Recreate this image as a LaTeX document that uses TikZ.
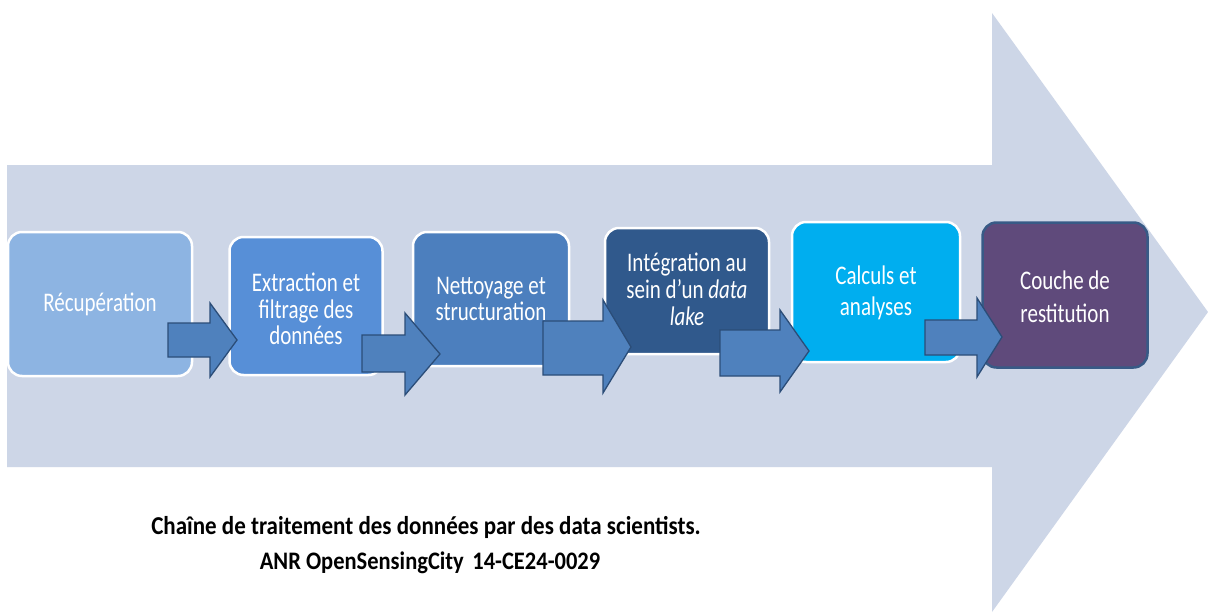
\documentclass[tikz,border=0pt]{standalone}
\usepackage{graphicx}
\usepackage{fontspec}
\setmainfont{Carlito}
\newcommand{\bt}[2][20.5]{\scalebox{1}[1.28]{\fontsize{21}{#1}\selectfont\begin{tabular}{@{}c@{}}#2\end{tabular}}}
\newcommand{\ct}[1]{\scalebox{1}[1.12]{#1}}
\begin{document}
\begin{tikzpicture}[x=1pt,y=-1pt,
  bigarrow/.style={fill=bigc, draw=none},
  stepbox/.style={rounded corners=14pt, draw=white, line width=2.5pt, inner sep=0pt},
  boxtext/.style={text=white, align=center, inner sep=0pt},
  blockarrow/.style={fill=arrc, draw=arrd, line width=1.3pt, line join=miter},
  captionbig/.style={font=\bfseries\fontsize{23}{27}\selectfont, text=black, inner sep=0pt},
  captionsmall/.style={font=\bfseries\fontsize{22.5}{27}\selectfont, text=black, inner sep=0pt}
]
\definecolor{bigc}{HTML}{CDD6E7}
\definecolor{c1}{HTML}{8DB4E2}
\definecolor{c2}{HTML}{578FD7}
\definecolor{c3}{HTML}{4C7FBE}
\definecolor{c4}{HTML}{30598C}
\definecolor{c5}{HTML}{00AEEF}
\definecolor{c6}{HTML}{5F4A7B}
\definecolor{c6b}{HTML}{385A86}
\definecolor{arrc}{HTML}{4F81BD}
\definecolor{arrd}{HTML}{2B4D78}
\useasboundingbox (0,0) rectangle (1208,613);
\fill[white] (0,0) rectangle (1208,613);
% big background arrow
\path[bigarrow] (7,165) -- (992,165) -- (992,13) -- (1208,312) -- (992,612) -- (992,467) -- (7,467) -- cycle;

% boxes (centres and sizes from the reference)
\node[stepbox, fill=c1, minimum width=184pt, minimum height=144pt] (b1) at (100,304) {};
\node[stepbox, fill=c2, minimum width=153pt, minimum height=138pt] (b2) at (306,306) {};
\node[stepbox, fill=c3, minimum width=156pt, minimum height=134pt] (b3) at (491,299) {};
\node[stepbox, fill=c4, minimum width=164pt, minimum height=126pt] (b4) at (687,291) {};
\node[stepbox, fill=c5, minimum width=168pt, minimum height=140pt] (b5) at (876,292) {};
\node[stepbox, fill=c6, draw=c6b, minimum width=165pt, minimum height=145pt] (b6) at (1065,295) {};

% box texts
\node[boxtext] (t1) at ([yshift=-2pt]b1.center) {\bt{R\'ecup\'eration}};
\node[boxtext] (t2) at ([yshift=-7pt]b2.center) {\bt{Extraction et\\filtrage des\\donn\'ees}};
\node[boxtext] (t3) at ([yshift=-3pt]b3.center) {\bt{Nettoyage et\\structuration}};
\node[boxtext] (t4) at ([yshift=-2pt]b4.center) {\bt{Int\'egration au\\sein d'un \textit{data}\\\textit{lake}}};
\node[boxtext] (t5) at ([yshift=-2pt]b5.center) {\bt[23.5]{Calculs et\\analyses}};
\node[boxtext] (t6) at ([yshift=-4pt]b6.center) {\bt[26]{Couche de\\restitution}};

% block arrows between boxes
\draw[blockarrow] (168,323) -- (210,323) -- (210,303) -- (237,340) -- (210,377) -- (210,357) -- (168,357) -- cycle;
\draw[blockarrow] (362,335) -- (405,335) -- (405,313) -- (440,354) -- (405,395) -- (405,372) -- (362,372) -- cycle;
\draw[blockarrow] (543,321) -- (603,321) -- (603,300) -- (631,347) -- (603,393) -- (603,375) -- (543,375) -- cycle;
\draw[blockarrow] (720,330) -- (780,330) -- (780,310) -- (809,351) -- (780,392) -- (780,376) -- (720,376) -- cycle;
\draw[blockarrow] (925,320) -- (977,320) -- (977,298) -- (1002,337) -- (977,377) -- (977,355) -- (925,355) -- cycle;

% caption
\node[captionbig] (cap1) at (426,527) {\ct{Cha\^ine de traitement des donn\'ees par des data scientists.}};
\node[captionsmall] (cap2) at (430,563) {\ct{ANR OpenSensingCity\hspace{0.15em} 14-CE24-0029}};
\end{tikzpicture}
\end{document}
